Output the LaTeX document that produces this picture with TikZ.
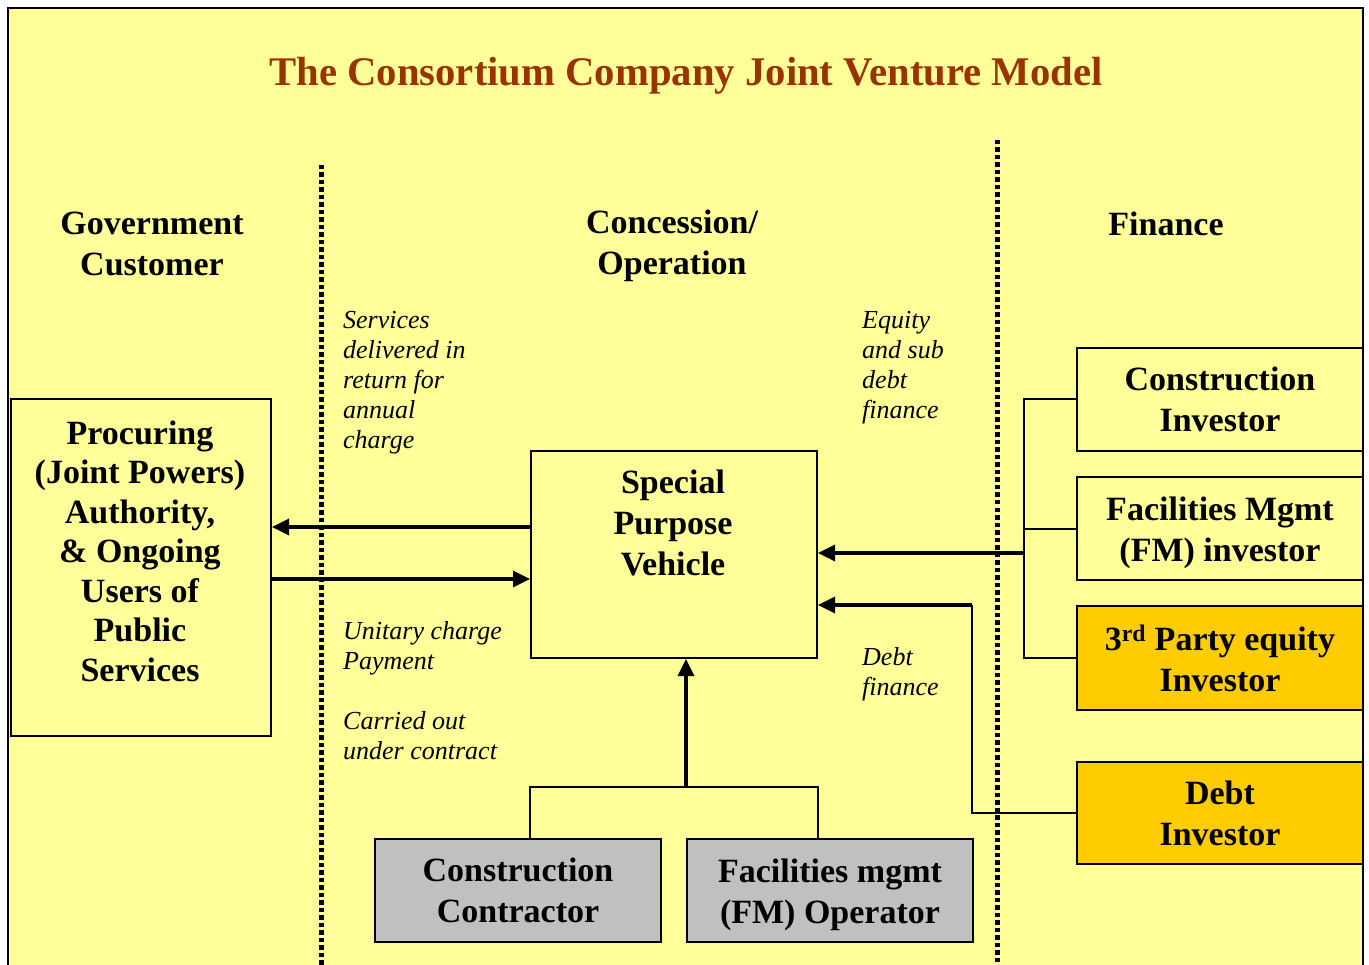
\documentclass[tikz,border=0pt]{standalone}
\usepackage{fontspec}
\setmainfont{Liberation Serif}
\usetikzlibrary{arrows.meta}
\definecolor{bgyellow}{HTML}{FFFF99}
\definecolor{titlebrown}{HTML}{993300}
\definecolor{boxorange}{HTML}{FFCC00}
\definecolor{boxgray}{HTML}{C0C0C0}
\tikzset{
  box/.style={draw=black, line width=2pt, fill=bgyellow, rectangle, inner sep=0pt, anchor=north west},
  obox/.style={box, fill=boxorange},
  gbox/.style={box, fill=boxgray},
  btext/.style={font=\fontsize{34}{41}\selectfont\bfseries, align=center, inner sep=0pt},
  itext/.style={font=\fontsize{26}{30}\selectfont\itshape, align=left, inner sep=0pt, anchor=north west},
  arr/.style={line width=3.4pt, -{Triangle[length=17pt,width=16pt]}},
  thin/.style={line width=2pt},
  divider/.style={line width=5pt, dash pattern=on 4.5pt off 3pt},
}
\begin{document}
\begin{tikzpicture}[x=1pt,y=-1pt]
\useasboundingbox (0,0) rectangle (1369,965);
\begin{scope}
\clip (0,0) rectangle (1369,965);
\draw[line width=2.2pt, fill=bgyellow] (8,8) rectangle (1363,990);
\end{scope}

% title
\node[font=\fontsize{40.7}{46}\selectfont\bfseries, text=titlebrown, inner sep=0pt] (title) at (686,76) {The Consortium Company Joint Venture Model};

% dividers
\coordinate (d1t) at (321,165);
\coordinate (d1b) at (321,965);
\coordinate (d2t) at (997,140);
\coordinate (d2b) at (997,965);
\draw[divider] (d1t) -- (d1b);
\draw[divider] (d2t) -- (d2b);

% headings
\node[btext] (hgov) at (152,244) {Government\\Customer};
\node[btext] (hcon) at (672,246) {Concession/\\Operation};
\node[btext] (hfin) at (1166,224) {Finance};

% italic labels
\node[itext] (lserv) at (343,311) {Services\\delivered in\\return for\\annual\\charge};
\node[itext] (leq) at (862,311) {Equity\\and sub\\debt\\finance};
\node[itext] (lunit) at (343,621) {Unitary charge\\Payment};
\node[itext] (lcarr) at (343,711) {Carried out\\under contract};
\node[itext] (ldebt) at (862,647) {Debt\\finance};

% boxes
\node[box, minimum width=260pt, minimum height=337pt] (proc) at (10,398) {};
\node[btext, font=\fontsize{34}{39.5}\selectfont\bfseries] (proct) at (140,551) {Procuring\\(Joint Powers)\\Authority,\\\& Ongoing\\Users of\\Public\\Services};

\node[box, minimum width=286pt, minimum height=207pt] (spv) at (530,450) {};
\node[btext] (spvt) at (673,523) {Special\\Purpose\\Vehicle};

\node[box, minimum width=286pt, minimum height=103pt] (ci) at (1076,347) {};
\node[btext] (cit) at (ci.center) {Construction\\Investor};
\node[box, minimum width=286pt, minimum height=103pt] (fmi) at (1076,476) {};
\node[btext, yshift=-4pt] (fmit) at (fmi.center) {Facilities Mgmt\\(FM) investor};
\node[obox, minimum width=286pt, minimum height=104pt] (tp) at (1076,605) {};
\node[btext] (tpt) at (tp.center) {3\textsuperscript{rd} Party equity\\Investor};
\node[obox, minimum width=286pt, minimum height=102pt] (di) at (1076,761) {};
\node[btext] (dit) at (di.center) {Debt\\Investor};

\node[gbox, minimum width=286pt, minimum height=103pt] (cc) at (374,838) {};
\node[btext] (cct) at (cc.center) {Construction\\Contractor};
\node[gbox, minimum width=286pt, minimum height=103pt] (fo) at (686,838) {};
\node[btext, yshift=-4pt] (fot) at (fo.center) {Facilities mgmt\\(FM) Operator};

% left arrows
\coordinate (s1) at (530,527);
\coordinate (s2) at (270,579);
\draw[arr] (s1) -- (proc.east |- s1);
\draw[arr] (s2) -- (spv.west |- s2);

% equity bracket
\coordinate (bk) at (1024,553);
\draw[thin] (ci.west) -| (bk |- ci.west) |- (tp.west);
\draw[thin] (fmi.west) -- (bk |- fmi.west);
\draw[arr] (bk) -- (spv.east |- bk);

% debt line
\coordinate (dk) at (972,605);
\draw[thin] (di.west) -| (dk);
\draw[arr] (dk) -- (spv.east |- dk);

% bottom bracket
\coordinate (jb) at (686,787);
\draw[thin] (cc.north -| spv.south west) |- (spv.south east |- jb) -- (fo.north -| spv.south east);
\draw[arr] (jb) -- (spv.south -| jb);
\end{tikzpicture}
\end{document}
